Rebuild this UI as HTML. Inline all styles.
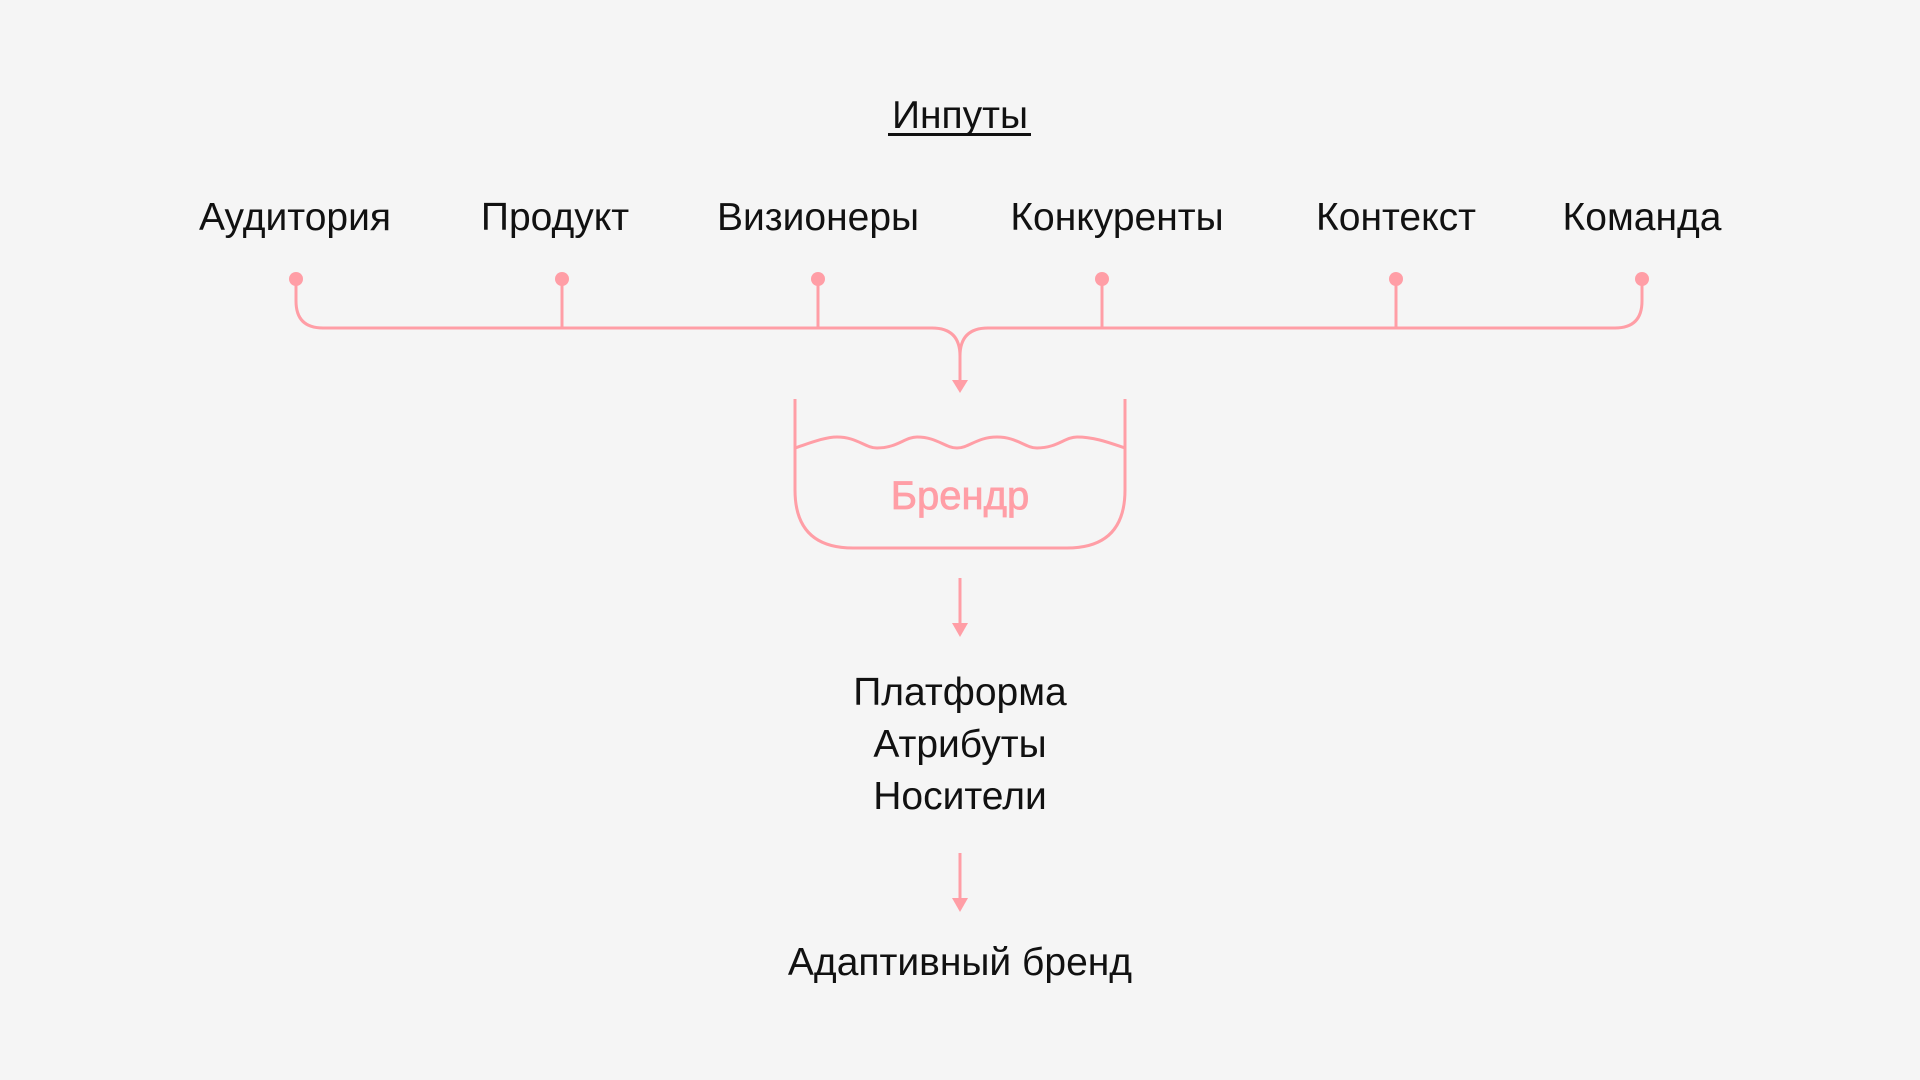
<!DOCTYPE html>
<html><head><meta charset="utf-8"><style>
html,body{margin:0;padding:0;background:#f5f5f5;}
svg{display:block}
text{font-family:"Liberation Sans",sans-serif;}
</style></head><body>
<svg width="1920" height="1080" viewBox="0 0 1920 1080" xmlns="http://www.w3.org/2000/svg">
<rect width="1920" height="1080" fill="#f5f5f5"/>
<g fill="#111" font-size="39" text-anchor="middle">
<text x="960" y="128">Инпуты</text>
<rect x="888" y="133" width="143" height="3" fill="#111"/>
<text x="295" y="230">Аудитория</text>
<text x="555" y="230">Продукт</text>
<text x="818" y="230">Визионеры</text>
<text x="1117" y="230">Конкуренты</text>
<text x="1396" y="230">Контекст</text>
<text x="1642" y="230">Команда</text>
<text x="960" y="705">Платформа</text>
<text x="960" y="757">Атрибуты</text>
<text x="960" y="809">Носители</text>
<text x="960" y="975">Адаптивный бренд</text>
</g>
<g stroke="#ff9ea6" stroke-width="3" fill="none">
<path d="M296 279 V301 Q296 328 323 328 H932 Q960 328 960 356 V384"/>
<path d="M1642 279 V301 Q1642 328 1615 328 H988 Q960 328 960 356"/>
<path d="M562 279 V328 M818 279 V328 M1102 279 V328 M1396 279 V328"/>
<path d="M795 399 V490 Q795 548 853 548 H1067 Q1125 548 1125 490 V399"/>
<path d="M795 448 C810 443 825 437 837 437 C857 437 865 448 877 448 C897 448 905 437 917 437 C937 437 945 448 957 448 C969 448 977 437 997 437 C1017 437 1025 448 1037 448 C1057 448 1065 437 1077 437 C1095 437 1110 443 1125 448"/>
<path d="M960 578 V626 M960 853 V901"/>
</g>
<g fill="#ff9ea6" stroke="none">
<circle cx="296" cy="279" r="7"/><circle cx="562" cy="279" r="7"/><circle cx="818" cy="279" r="7"/>
<circle cx="1102" cy="279" r="7"/><circle cx="1396" cy="279" r="7"/><circle cx="1642" cy="279" r="7"/>
<path d="M952 380 L968 380 L960 393 Z"/>
<path d="M952 623 L968 623 L960 637 Z"/>
<path d="M952 898 L968 898 L960 912 Z"/>
<text x="960" y="509" font-size="40" stroke="#ff9ea6" stroke-width="0.8" text-anchor="middle">Брендр</text>
</g>
</svg>
</body></html>
